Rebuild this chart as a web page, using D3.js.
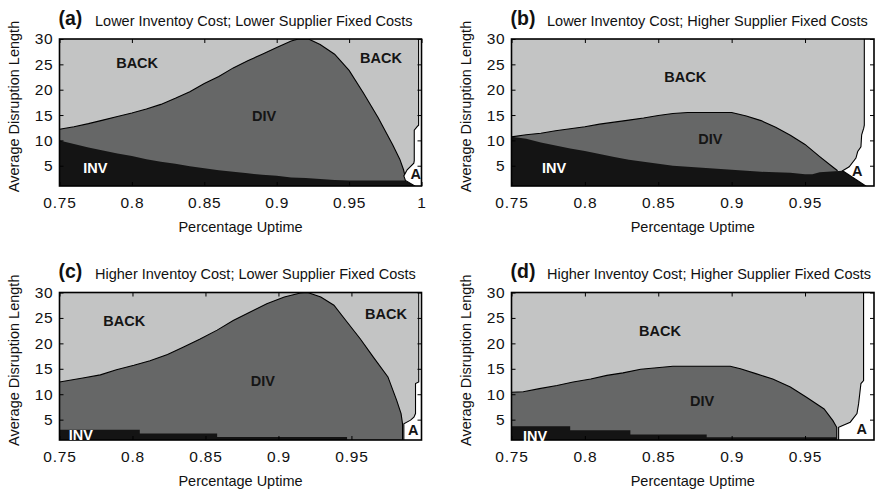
<!DOCTYPE html>
<html>
<head>
<meta charset="utf-8">
<script src="https://cdn.jsdelivr.net/npm/d3@7"></script>
<style>
  body { margin: 0; background: #fff; }
  text { font-family: "Liberation Sans", Arial, Helvetica, sans-serif; }
</style>
</head>
<body>
<svg id="chart" width="880" height="493"></svg>
<script>
// ---- axis ticks and panel titles ----
const yTicks = [5, 10, 15, 20, 25, 30];
const xTicksFull = [0.75, 0.8, 0.85, 0.9, 0.95, 1];
const xTicksShort = [0.75, 0.8, 0.85, 0.9, 0.95];
const panelLetters = ["(a)", "(b)", "(c)", "(d)"];
const panelTitles = [
  "Lower Inventoy Cost; Lower Supplier Fixed Costs",
  "Lower Inventoy Cost; Higher Supplier Fixed Costs",
  "Higher Inventoy Cost; Lower Supplier Fixed Costs",
  "Higher Inventoy Cost; Higher Supplier Fixed Costs"
];
const uptimeMax = [1.0, 0.997, 0.998, 0.997];

// ---- region boundaries: [percentage uptime, average disruption length] ----
// (a) lower inventory cost, lower supplier fixed costs
const divTopA = [[0.75,12.2],[0.76,12.7],[0.77,13.3],[0.78,14.0],[0.79,14.7],[0.80,15.4],[0.81,16.2],[0.82,17.1],[0.83,18.3],[0.84,19.6],[0.85,21.2],[0.86,22.6],[0.87,24.3],[0.88,25.7],[0.89,27.0],[0.90,28.3],[0.91,29.6],[0.915,30],[0.922,30],[0.93,28.9],[0.94,27.0],[0.95,23.8],[0.96,19.3],[0.97,14.5],[0.98,9.2],[0.985,6.3],[0.9876,4.2],[0.989,2.5]];
const invTopA = [[0.75,10.0],[0.76,9.3],[0.77,8.6],[0.78,8.0],[0.79,7.4],[0.80,6.9],[0.81,6.3],[0.82,5.8],[0.83,5.4],[0.84,4.9],[0.85,4.5],[0.86,4.1],[0.87,3.8],[0.88,3.5],[0.89,3.2],[0.90,3.0],[0.91,2.7],[0.92,2.6],[0.93,2.4],[0.94,2.2],[0.95,2.1],[0.9889,2.1],[0.9955,1]];
const aloneA = [[0.9889,2.1],[0.9878,3.0],[0.9901,4.2],[0.9947,5.5],[0.995,6.0],[0.995,12.0],[0.997,12.7],[0.998,13.0],[0.998,31],[1.01,31],[1.01,0],[0.9955,0],[0.9955,1]];

// (b) lower inventory cost, higher supplier fixed costs
const divTopB = [[0.75,10.7],[0.76,11.1],[0.77,11.4],[0.78,11.9],[0.79,12.3],[0.80,12.7],[0.81,13.2],[0.82,13.6],[0.83,14.0],[0.84,14.4],[0.85,14.9],[0.86,15.3],[0.87,15.5],[0.90,15.5],[0.91,14.8],[0.92,13.9],[0.93,12.6],[0.94,11.0],[0.95,9.2],[0.96,6.8],[0.97,4.5],[0.9722,4.0]];
const invTopB = [[0.75,10.7],[0.76,10.3],[0.77,9.6],[0.78,9.0],[0.79,8.4],[0.80,7.9],[0.81,7.3],[0.82,6.7],[0.83,6.2],[0.84,5.8],[0.85,5.4],[0.86,5.0],[0.87,4.8],[0.88,4.6],[0.89,4.4],[0.90,4.2],[0.91,4.0],[0.92,3.8],[0.93,3.7],[0.94,3.6],[0.95,3.3],[0.955,3.3],[0.96,3.7],[0.9756,4.0],[0.9915,1]];
const aloneB = [[0.9756,4.0],[0.9801,4.8],[0.9847,6.5],[0.9859,7.8],[0.9881,8.75],[0.9886,11.1],[0.990,12.4],[0.9904,13.0],[0.9904,31],[1.01,31],[1.01,0],[0.9915,0],[0.9915,1]];

// (c) higher inventory cost, lower supplier fixed costs
const divTopC = [[0.75,12.4],[0.766,13.2],[0.778,13.8],[0.789,14.8],[0.801,15.7],[0.812,16.6],[0.824,17.8],[0.835,19.3],[0.846,20.8],[0.858,22.6],[0.869,24.5],[0.881,26.2],[0.892,27.8],[0.904,29.1],[0.915,29.9],[0.920,30],[0.929,29.1],[0.938,27.5],[0.947,24.2],[0.956,20.9],[0.965,17.3],[0.975,13.4],[0.981,8.8],[0.984,6.2],[0.985,4.2],[0.985,1]];
const invTopC = [[0.75,3.0],[0.805,3.0],[0.805,2.3],[0.858,2.3],[0.858,1.6],[0.947,1.6],[0.947,1]];
const aloneC = [[0.9859,0],[0.9859,4.2],[0.9905,4.9],[0.9928,5.5],[0.9939,6.2],[0.9939,12.1],[0.9961,12.4],[0.9961,31],[1.01,31],[1.01,0]];

// (d) higher inventory cost, higher supplier fixed costs
const divTopD = [[0.75,10.4],[0.758,10.5],[0.769,11.1],[0.781,11.7],[0.792,12.4],[0.804,13.0],[0.815,13.7],[0.826,14.2],[0.838,14.9],[0.849,15.2],[0.860,15.5],[0.899,15.5],[0.906,15.0],[0.917,14.0],[0.928,13.0],[0.940,11.4],[0.951,9.4],[0.963,7.1],[0.969,4.8],[0.9716,3.5],[0.9716,1]];
const invTopD = [[0.75,3.7],[0.79,3.7],[0.79,2.9],[0.831,2.9],[0.831,2.1],[0.883,2.1],[0.883,1.55],[0.9716,1.55],[0.9716,1]];
const aloneD = [[0.9729,0],[0.9729,3.5],[0.9745,3.7],[0.9808,4.5],[0.9854,6.2],[0.9865,8.1],[0.9881,12.1],[0.9899,12.7],[0.9899,31],[1.01,31],[1.01,0]];

// region names placed at [uptime, disruption length]
const namesA = [["BACK",0.8036,25.4],["BACK",0.972,26.3],["DIV",0.8913,14.8],["INV",0.7748,4.65],["A",0.996,3.4]];
const namesB = [["BACK",0.8684,22.6],["DIV",0.8855,10.3],["INV",0.779,4.65],["A",0.9855,4.0]];
const namesC = [["BACK",0.7944,24.5],["BACK",0.9737,25.8],["DIV",0.8893,12.7],["INV",0.7646,2.0],["A",0.9924,3.0]];
const namesD = [["BACK",0.8512,22.4],["DIV",0.8798,8.8],["INV",0.766,1.9],["A",0.9886,3.3]];

// ---- drawing ----
const colors = { BACK: "#c3c4c4", DIV: "#666767", INV: "#141414", A: "#ffffff" };
const textColors = { BACK: "#151515", DIV: "#151515", INV: "#ffffff", A: "#151515" };

const frames = [
  { left: 59.5, right: 421.5, top: 39, bottom: 186 },
  { left: 511.5, right: 874, top: 39, bottom: 186 },
  { left: 59.5, right: 421.5, top: 292.5, bottom: 440 },
  { left: 511.5, right: 874, top: 292.5, bottom: 440 }
];
const panels = [
  { div: divTopA, inv: invTopA, alone: aloneA, names: namesA, xticks: xTicksFull },
  { div: divTopB, inv: invTopB, alone: aloneB, names: namesB, xticks: xTicksShort },
  { div: divTopC, inv: invTopC, alone: aloneC, names: namesC, xticks: xTicksShort },
  { div: divTopD, inv: invTopD, alone: aloneD, names: namesD, xticks: xTicksShort }
];

const svg = d3.select("#chart");

panels.forEach((p, i) => {
  const f = frames[i];
  const x = d3.scaleLinear().domain([0.75, uptimeMax[i]]).range([f.left, f.right]);
  const y = d3.scaleLinear().domain([1, 30]).range([f.bottom, f.top]);
  const g = svg.append("g");

  const clipId = "clip" + i;
  svg.append("clipPath").attr("id", clipId)
    .append("rect").attr("x", f.left).attr("y", f.top)
    .attr("width", f.right - f.left).attr("height", f.bottom - f.top);

  const plot = g.append("g").attr("clip-path", `url(#${clipId})`);
  plot.append("rect").attr("x", f.left).attr("y", f.top)
    .attr("width", f.right - f.left).attr("height", f.bottom - f.top)
    .attr("fill", colors.BACK);

  const area = d3.area().x(d => x(d[0])).y0(y(0)).y1(d => y(d[1]));
  const line = d3.line().x(d => x(d[0])).y(d => y(d[1]));

  plot.append("path").datum(p.div).attr("d", area).attr("fill", colors.DIV);
  plot.append("path").datum(p.div).attr("d", line)
    .attr("fill", "none").attr("stroke", "#000").attr("stroke-width", 1.1);
  plot.append("path").datum(p.inv).attr("d", area).attr("fill", colors.INV);
  plot.append("path").datum(p.alone).attr("d", d => line(d) + "Z")
    .attr("fill", colors.A).attr("stroke", "#000").attr("stroke-width", 1.1);

  // inward ticks on all four sides
  const tickLen = 4;
  const bottomAxis = d3.axisBottom(x).tickValues(p.xticks).tickSizeInner(-tickLen).tickSizeOuter(0)
    .tickPadding(10.5).tickFormat(d3.format(""));
  const topAxis = d3.axisTop(x).tickValues(p.xticks).tickSizeInner(-tickLen).tickSizeOuter(0).tickFormat("");
  const leftAxis = d3.axisLeft(y).tickValues(yTicks).tickSizeInner(-tickLen).tickSizeOuter(0)
    .tickPadding(6).tickFormat(d3.format(""));
  const rightAxis = d3.axisRight(y).tickValues(yTicks).tickSizeInner(-tickLen).tickSizeOuter(0).tickFormat("");

  const axes = [
    [bottomAxis, `translate(0,${f.bottom})`],
    [topAxis, `translate(0,${f.top})`],
    [leftAxis, `translate(${f.left},0)`],
    [rightAxis, `translate(${f.right},0)`]
  ];
  axes.forEach(([ax, tr]) => {
    const a = g.append("g").attr("transform", tr).call(ax);
    a.select(".domain").remove();
    a.selectAll("line").attr("stroke", "#000").attr("stroke-width", 1);
    a.selectAll("text").attr("fill", "#111").style("font-size", "15.5px")
      .style("letter-spacing", "0.8px")
      .style("font-family", "'Liberation Sans', Arial, sans-serif");
  });

  g.append("rect").attr("x", f.left).attr("y", f.top)
    .attr("width", f.right - f.left).attr("height", f.bottom - f.top)
    .attr("fill", "none").attr("stroke", "#000").attr("stroke-width", 1.6);

  // region names
  g.selectAll("text.region").data(p.names).enter().append("text")
    .attr("class", "region")
    .attr("x", d => x(d[1])).attr("y", d => y(d[2]))
    .attr("dy", "0.36em")
    .attr("text-anchor", "middle")
    .style("font-size", "14.5px").style("font-weight", "bold")
    .attr("fill", d => textColors[d[0]])
    .text(d => d[0]);

  // titles
  const titleY = f.top - 14.5;
  g.append("text").attr("x", f.left - 1).attr("y", titleY)
    .style("font-size", "19.5px").style("font-weight", "bold").attr("fill", "#111")
    .text(panelLetters[i]);
  g.append("text").attr("x", f.left + 35.5).attr("y", titleY + 1)
    .style("font-size", "14.5px").attr("fill", "#111")
    .text(panelTitles[i]);

  // axis titles
  g.append("text")
    .attr("transform", `translate(${f.left - 41},${(f.top + f.bottom) / 2 - 6}) rotate(-90)`)
    .attr("text-anchor", "middle").style("font-size", "14.5px").attr("fill", "#111")
    .text("Average Disruption Length");
  g.append("text")
    .attr("x", (f.left + f.right) / 2).attr("y", f.bottom + 46)
    .attr("text-anchor", "middle").style("font-size", "14.5px").attr("fill", "#111")
    .text("Percentage Uptime");
});
</script>
</body>
</html>
